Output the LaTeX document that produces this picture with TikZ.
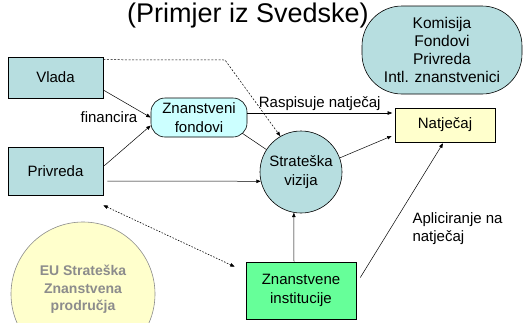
\documentclass[tikz,border=0pt]{standalone}
\usepackage{fontspec}
\setmainfont{Liberation Sans}
\usetikzlibrary{arrows.meta,calc}
\definecolor{tealbox}{HTML}{B7DEE0}
\definecolor{cyanbox}{HTML}{CCFFFF}
\definecolor{yelbox}{HTML}{FFFFCC}
\definecolor{grnbox}{HTML}{66FF99}
\definecolor{eugray}{HTML}{8C8C8C}
\begin{document}
\begin{tikzpicture}[x=1pt,y=-1pt,
  txt/.style={font=\fontsize{15}{18.5}\selectfont, align=center},
  box/.style={txt, draw=black, line width=0.6pt, inner sep=0pt},
  arr/.style={-{Triangle[length=4.5pt,width=3.5pt]}, line width=0.5pt},
  dashln/.style={arr, dash pattern=on 2pt off 1.6pt, line width=0.5pt},
  dotln/.style={{Triangle[length=4.5pt,width=3.5pt]}-{Triangle[length=4.5pt,width=3.5pt]}, dash pattern=on 1.5pt off 1.5pt, line width=0.6pt}]
\clip (0,0) rectangle (525,322);
\fill[white] (0,0) rectangle (525,322);

% title
\node[anchor=base, font=\fontsize{27}{30}\selectfont, inner sep=0pt] (title) at (248,22) {(Primjer iz Svedske)};

% nodes
\node[box, fill=tealbox, rounded corners=40pt, minimum width=160pt, minimum height=88pt,
      font=\fontsize{15.5}{18.3}\selectfont] (kom) at (442,50) {Komisija\\Fondovi\\Privreda\\Intl. znanstvenici};
\node[box, fill=tealbox, minimum width=95pt, minimum height=41pt] (vlada) at (55.5,77.5) {Vlada};
\node[box, fill=tealbox, minimum width=95pt, minimum height=48pt] (priv) at (55.5,171) {Privreda};
\node[box, fill=cyanbox, rounded corners=14pt, minimum width=96pt, minimum height=39pt] (fond) at (199,117.5) {Znanstveni\\fondovi};
\node[box, fill=tealbox, circle, minimum size=82pt] (strat) at (301,172) {Strateška\\vizija};
\node[box, fill=yelbox, minimum width=100pt, minimum height=34pt] (nat) at (445,125) {Natječaj};
\node[box, fill=grnbox, minimum width=110pt, minimum height=57pt] (inst) at (301,290.5) {Znanstvene\\institucije};
\node[circle, draw=eugray, fill=yelbox, line width=0.6pt, minimum size=144pt, inner sep=0pt] (eu) at (83,294) {};
\node[text=eugray, align=center, font=\bfseries\fontsize{14}{17.5}\selectfont, anchor=north] (eutxt) at (83,262) {EU Strateška\\Znanstvena\\prodručja};

% labels
\node[txt, anchor=base] (fin) at (109,122) {financira};
\node[txt, anchor=north west, align=left] (apl) at (409,209) {Apliciranje na\\natječaj};

% connectors
\draw[arr] ([yshift=-12.5pt]vlada.east) -- (fond.west);
\draw[arr] ([xshift=1pt,yshift=-19pt]priv.north east) -- ([yshift=-8pt]fond.west);
\draw[arr] ([xshift=4pt,yshift=-10pt]priv.east) -- (strat.193);
\draw[line width=0.5pt] ([xshift=-5pt,yshift=4pt]fond.south east) -- (strat.147);
\draw[arr] ([yshift=4.5pt]fond.east) -- ([xshift=-2.5pt,yshift=4.5pt]fond.east -| nat.west)
   node[midway, above=-1pt, txt] (rasp) {Raspisuje natječaj};
\draw[arr] (strat.20) -- ([xshift=-3pt,yshift=-11pt]nat.west);
\draw[arr] ([xshift=-7pt]inst.north) -- (strat.260);
\draw[arr] ([xshift=4pt,yshift=13pt]inst.east) -- ([xshift=-2pt,yshift=-1pt]nat.south);
\coordinate (bend) at (225,60);
\draw[dashln] ([yshift=-3pt]vlada.north east) -- (bend) -- (strat.120);
\draw[dotln] ([yshift=-10pt]priv.south east) -- ([xshift=-11pt,yshift=-5pt]inst.north west);
\end{tikzpicture}
\end{document}
